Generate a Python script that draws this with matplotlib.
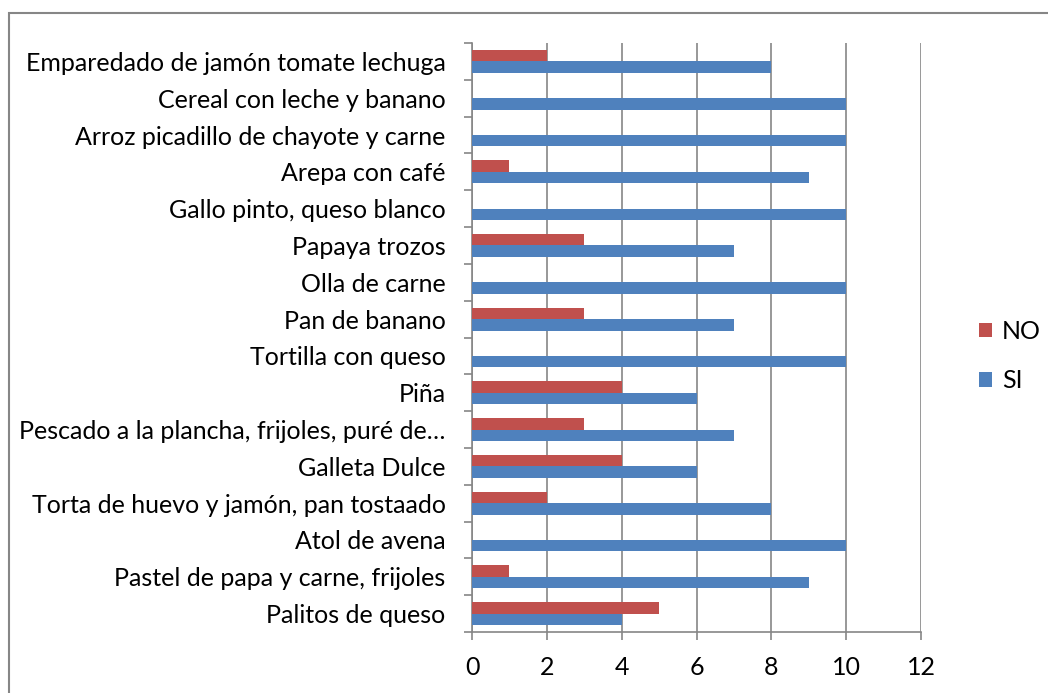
import matplotlib.pyplot as plt
from matplotlib.patches import Rectangle
import numpy as np

plt.rcParams['font.family'] = ['Lato', 'DejaVu Sans']

# platos, de abajo hacia arriba
platos = [
    'Palitos de queso',
    'Pastel de papa y carne, frijoles',
    'Atol de avena',
    'Torta de huevo y jamón, pan tostaado',
    'Galleta Dulce',
    'Pescado a la plancha, frijoles, puré de…',
    'Piña',
    'Tortilla con queso',
    'Pan de banano',
    'Olla de carne',
    'Papaya trozos',
    'Gallo pinto, queso blanco',
    'Arepa con café',
    'Arroz picadillo de chayote y carne',
    'Cereal con leche y banano',
    'Emparedado de jamón tomate lechuga',
]
si = [4, 9, 10, 8, 6, 7, 6, 10, 7, 10, 7, 10, 9, 10, 10, 8]
no = [5, 1, 0, 2, 4, 3, 4, 0, 3, 0, 3, 0, 1, 0, 0, 2]

gris = '#868686'
azul = '#4F81BD'
rojo = '#C0504D'

fig = plt.figure(figsize=(10.48, 6.93), dpi=100)
ax = fig.add_axes([0.4504, 0.088, 0.4284, 0.8499])

# marco exterior del grafico
fig.patches.append(Rectangle((9 / 1048, -0.1), 1.2, 1.1 - 13 / 693,
                             transform=fig.transFigure, fill=False,
                             edgecolor=gris, linewidth=1.5))

y = np.arange(len(platos))
h = 0.31
ax.barh(y + h / 2, no, height=h, color=rojo, label='NO', zorder=3)
ax.barh(y - h / 2, si, height=h, color=azul, label='SI', zorder=3)

ax.set_xlim(0, 12)
ax.set_ylim(-0.5, len(platos) - 0.5)
ax.set_xticks(range(0, 13, 2))
ax.set_yticks(y)
ax.set_yticklabels(platos)
ax.set_yticks(np.arange(-0.5, len(platos), 1), minor=True)
ax.tick_params(axis='y', which='major', length=0, pad=19, labelsize=18)
ax.tick_params(axis='y', which='minor', length=6, color=gris, width=1.2)
ax.tick_params(axis='x', length=6, color=gris, width=1.2, pad=11, labelsize=18)

ax.grid(axis='x', color=gris, linewidth=1.2, zorder=0)
for s in ['top', 'right']:
    ax.spines[s].set_visible(False)
for s in ['left', 'bottom']:
    ax.spines[s].set_color(gris)
    ax.spines[s].set_linewidth(1.2)

ax.legend(loc='center left', bbox_to_anchor=(1.08, 0.468), frameon=False,
          fontsize=18, handlelength=0.5, handleheight=0.5,
          handletextpad=0.4, labelspacing=1.05)

fig.savefig('out.png', dpi=100)
